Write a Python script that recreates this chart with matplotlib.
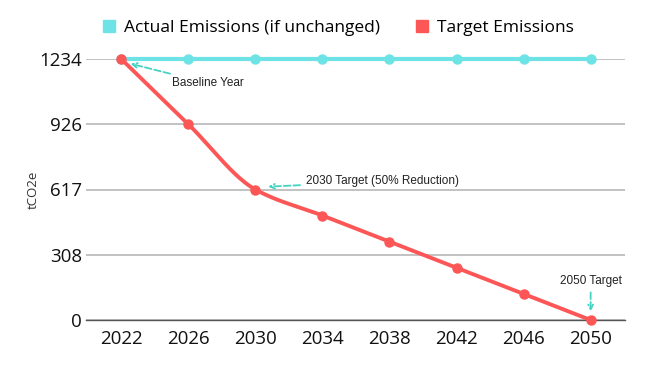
import numpy as np
import matplotlib
matplotlib.use("Agg")
import matplotlib.pyplot as plt
from matplotlib.lines import Line2D

years = [2022, 2026, 2030, 2034, 2038, 2042, 2046, 2050]
actual = [1234, 1234, 1234, 1234, 1234, 1234, 1234, 1234]
target = [1234, 926, 617, 494, 370, 247, 123, 0]
yticks = [0, 308, 617, 926, 1234]

CYAN = "#6ee3e6"
RED = "#fd5656"
ARROW = "#45d3c4"

plt.rcParams['font.family'] = ['Open Sans', 'DejaVu Sans']

def pchip(x, y, xs):
    x = np.asarray(x, float); y = np.asarray(y, float)
    h = np.diff(x); d = np.diff(y) / h
    m = np.zeros_like(y)
    for k in range(1, len(x) - 1):
        if d[k-1] * d[k] <= 0:
            m[k] = 0
        else:
            w1 = 2*h[k] + h[k-1]; w2 = h[k] + 2*h[k-1]
            m[k] = (w1 + w2) / (w1/d[k-1] + w2/d[k])
    m[0] = d[0]; m[-1] = d[-1]
    out = np.empty_like(xs, dtype=float)
    for i, xv in enumerate(xs):
        k = min(np.searchsorted(x, xv, side='right') - 1, len(x) - 2)
        t = (xv - x[k]) / h[k]
        h00 = 2*t**3 - 3*t**2 + 1; h10 = t**3 - 2*t**2 + t
        h01 = -2*t**3 + 3*t**2; h11 = t**3 - t**2
        out[i] = h00*y[k] + h10*h[k]*m[k] + h01*y[k+1] + h11*h[k]*m[k+1]
    return out

fig = plt.figure(figsize=(6.58, 3.68), dpi=100)
ax = fig.add_axes([86/658, 1 - 320/368, (625-86)/658, (320-59)/368])

ax.set_xlim(2019.9, 2052.05)
ax.set_ylim(0, 1234)

xs = np.linspace(years[0], years[-1], 400)
ax.plot(years, actual, color=CYAN, lw=3, marker='o', ms=6.5, zorder=3, clip_on=False)
ax.plot(xs, pchip(years, target, xs), color=RED, lw=2.8, zorder=4, clip_on=False)
ax.plot(years, target, color=RED, lw=0, marker='o', ms=6.5, zorder=5, clip_on=False)

ax.set_yticks(yticks)
ax.set_yticklabels([str(v) for v in yticks])
ax.set_xticks(years)
ax.set_xticklabels([str(v) for v in years])
ax.tick_params(axis='both', length=0, labelsize=13.5, colors='#111111')
ax.tick_params(axis='x', pad=7)
ax.tick_params(axis='y', pad=3)
ax.grid(axis='y', color='#bdbdbd', lw=1.3, zorder=0)
for s in ['top', 'right', 'left']:
    ax.spines[s].set_visible(False)
ax.spines['bottom'].set_color('#555555')
ax.spines['bottom'].set_linewidth(1.0)
ax.set_ylabel('tCO2e', fontsize=9.5, color='#333333')
ax.yaxis.set_label_coords((33 - 86) / 539, 0.5)
ax.yaxis.label.set_verticalalignment('center')

handles = [Line2D([], [], color=CYAN, marker='s', ls='', ms=8),
           Line2D([], [], color=RED, marker='s', ls='', ms=8)]
fig.legend(handles, ['Actual Emissions (if unchanged)', 'Target Emissions'],
           loc='center', bbox_to_anchor=(338/658, 1 - 28/368), ncol=2, frameon=False,
           fontsize=12.5, handletextpad=0.5, columnspacing=2.0, handlelength=0.8)

arrowprops = dict(arrowstyle='->', color=ARROW, lw=1.3, ls='--')
afont = dict(fontsize=8.5, color='#222222', family=['Liberation Sans', 'DejaVu Sans'])
ax.annotate('Baseline Year', xy=(2022.4, 1215), xytext=(2025, 1120),
            va='center', ha='left', arrowprops=arrowprops, **afont)
ax.annotate('2030 Target (50% Reduction)', xy=(2030.6, 630), xytext=(2033, 655),
            va='center', ha='left', arrowprops=arrowprops, **afont)
ax.annotate('2050 Target', xy=(2050, 28), xytext=(2050, 185),
            va='center', ha='center', arrowprops=arrowprops, **afont)

fig.savefig('out.png', dpi=100)
